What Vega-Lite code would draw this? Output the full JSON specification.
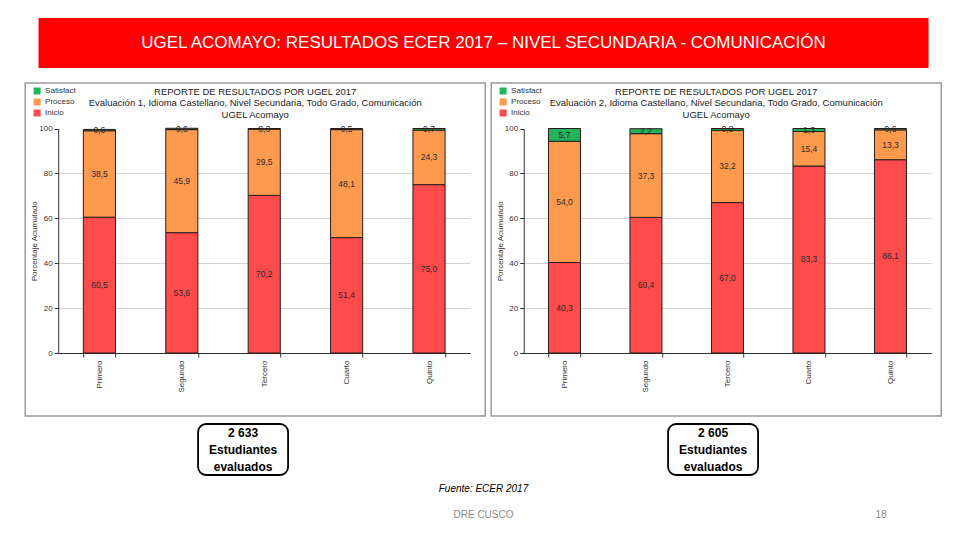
{
  "$schema": "https://vega.github.io/schema/vega-lite/v6.json",
  "background": "white",
  "padding": {"left": 20, "top": 18, "right": 0, "bottom": 0},
  "datasets": {
    "resultados": [
      {"evaluacion": 1, "grado": "Primero", "nivel": "Inicio", "orden": 1, "valor": 60.5},
      {"evaluacion": 1, "grado": "Primero", "nivel": "Proceso", "orden": 2, "valor": 38.5},
      {"evaluacion": 1, "grado": "Primero", "nivel": "Satisfactorio", "orden": 3, "valor": 0.6},
      {"evaluacion": 1, "grado": "Segundo", "nivel": "Inicio", "orden": 1, "valor": 53.6},
      {"evaluacion": 1, "grado": "Segundo", "nivel": "Proceso", "orden": 2, "valor": 45.9},
      {"evaluacion": 1, "grado": "Segundo", "nivel": "Satisfactorio", "orden": 3, "valor": 0.6},
      {"evaluacion": 1, "grado": "Tercero", "nivel": "Inicio", "orden": 1, "valor": 70.2},
      {"evaluacion": 1, "grado": "Tercero", "nivel": "Proceso", "orden": 2, "valor": 29.5},
      {"evaluacion": 1, "grado": "Tercero", "nivel": "Satisfactorio", "orden": 3, "valor": 0.3},
      {"evaluacion": 1, "grado": "Cuarto", "nivel": "Inicio", "orden": 1, "valor": 51.4},
      {"evaluacion": 1, "grado": "Cuarto", "nivel": "Proceso", "orden": 2, "valor": 48.1},
      {"evaluacion": 1, "grado": "Cuarto", "nivel": "Satisfactorio", "orden": 3, "valor": 0.5},
      {"evaluacion": 1, "grado": "Quinto", "nivel": "Inicio", "orden": 1, "valor": 75.0},
      {"evaluacion": 1, "grado": "Quinto", "nivel": "Proceso", "orden": 2, "valor": 24.3},
      {"evaluacion": 1, "grado": "Quinto", "nivel": "Satisfactorio", "orden": 3, "valor": 0.7},
      {"evaluacion": 2, "grado": "Primero", "nivel": "Inicio", "orden": 1, "valor": 40.3},
      {"evaluacion": 2, "grado": "Primero", "nivel": "Proceso", "orden": 2, "valor": 54.0},
      {"evaluacion": 2, "grado": "Primero", "nivel": "Satisfactorio", "orden": 3, "valor": 5.7},
      {"evaluacion": 2, "grado": "Segundo", "nivel": "Inicio", "orden": 1, "valor": 60.4},
      {"evaluacion": 2, "grado": "Segundo", "nivel": "Proceso", "orden": 2, "valor": 37.3},
      {"evaluacion": 2, "grado": "Segundo", "nivel": "Satisfactorio", "orden": 3, "valor": 2.2},
      {"evaluacion": 2, "grado": "Tercero", "nivel": "Inicio", "orden": 1, "valor": 67.0},
      {"evaluacion": 2, "grado": "Tercero", "nivel": "Proceso", "orden": 2, "valor": 32.2},
      {"evaluacion": 2, "grado": "Tercero", "nivel": "Satisfactorio", "orden": 3, "valor": 0.8},
      {"evaluacion": 2, "grado": "Cuarto", "nivel": "Inicio", "orden": 1, "valor": 83.3},
      {"evaluacion": 2, "grado": "Cuarto", "nivel": "Proceso", "orden": 2, "valor": 15.4},
      {"evaluacion": 2, "grado": "Cuarto", "nivel": "Satisfactorio", "orden": 3, "valor": 1.3},
      {"evaluacion": 2, "grado": "Quinto", "nivel": "Inicio", "orden": 1, "valor": 86.1},
      {"evaluacion": 2, "grado": "Quinto", "nivel": "Proceso", "orden": 2, "valor": 13.3},
      {"evaluacion": 2, "grado": "Quinto", "nivel": "Satisfactorio", "orden": 3, "valor": 0.6}
    ],
    "cabecera": [
      {"texto": "UGEL ACOMAYO: RESULTADOS ECER 2017 – NIVEL SECUNDARIA - COMUNICACIÓN"}
    ],
    "estudiantes": [
      {"evaluacion": 1, "texto": ["2 633", "Estudiantes", "evaluados"]},
      {"evaluacion": 2, "texto": ["2 605", "Estudiantes", "evaluados"]}
    ],
    "pie": [
      {"texto": "Fuente: ECER 2017", "pos": "centro", "fila": "a", "tipo": "fuente"},
      {"texto": "DRE CUSCO", "pos": "centro", "fila": "b", "tipo": "pie"},
      {"texto": "18", "pos": "der", "fila": "b", "tipo": "pie"}
    ]
  },
  "vconcat": [
    {
      "vconcat": [
        {
          "width": 890,
          "height": 50,
          "view": {"fill": "#ff0000", "stroke": null},
          "data": {"name": "cabecera"},
          "mark": {"type": "text", "color": "white", "fontSize": 17, "font": "Liberation Sans"},
          "encoding": {"text": {"field": "texto", "type": "nominal"}}
        },
        {
          "hconcat": [
            {
              "vconcat": [
                {
                  "width": 460,
                  "height": 333,
                  "view": {"stroke": "#9c9c9c", "strokeWidth": 1.5, "fill": "white"},
                  "title": {
                    "text": ["REPORTE DE RESULTADOS POR UGEL 2017", "Evaluación 1, Idioma Castellano, Nivel Secundaria, Todo Grado, Comunicación", "UGEL Acomayo"],
                    "frame": "group", "anchor": "middle", "offset": -36,
                    "fontSize": 9.5, "font": "Liberation Sans", "fontWeight": "normal", "color": "#222222", "lineHeight": 11.5
                  },
                  "data": {"name": "resultados"},
                  "transform": [
                    {"filter": "datum.evaluacion == 1"},
                    {"stack": "valor", "groupby": ["grado"], "sort": [{"field": "orden", "order": "ascending"}], "as": ["y0", "y1"]},
                    {"calculate": "(datum.y0 + datum.y1) / 2", "as": "ymid"}
                  ],
                  "encoding": {
                    "x": {
                      "field": "grado", "type": "nominal",
                      "sort": ["Primero", "Segundo", "Tercero", "Cuarto", "Quinto"],
                      "scale": {"range": [33, 445], "paddingInner": 0.61, "paddingOuter": 0.305},
                      "axis": {"title": null, "orient": "bottom", "offset": -63, "labelAngle": -90, "tickBand": "extent", "tickSize": 4, "labelFontSize": 8, "labelFont": "Liberation Sans", "labelColor": "#333333", "labelPadding": 3, "domainColor": "#333333", "tickColor": "#333333", "grid": false}
                    }
                  },
                  "layer": [
                    {
                      "mark": {"type": "bar", "stroke": "#2b1b1b", "strokeWidth": 1},
                      "encoding": {
                        "y": {
                          "field": "y0", "type": "quantitative", "title": "Porcentaje Acumulado",
                          "scale": {"domain": [0, 100], "range": [270, 45.5], "nice": false, "zero": false},
                          "axis": {
                            "values": [0, 10, 20, 30, 40, 50, 60, 70, 80, 90, 100],
                            "labelExpr": "datum.value % 20 == 0 ? datum.label : ''",
                            "offset": -33, "grid": true, "gridColor": "#d4d4d4",
                            "gridOpacity": {"condition": {"test": "datum.value % 20 != 0 || datum.value == 0 || datum.value == 100", "value": 0}, "value": 1},
                            "tickSize": 4, "domainColor": "#333333", "tickColor": "#333333",
                            "labelFontSize": 8, "labelFont": "Liberation Sans", "labelColor": "#333333", "labelPadding": 2,
                            "titleFontSize": 8, "titleFont": "Liberation Sans", "titleFontWeight": "normal", "titleColor": "#333333", "titlePadding": 0
                          }
                        },
                        "y2": {"field": "y1"},
                        "color": {
                          "field": "nivel", "type": "nominal",
                          "scale": {"domain": ["Satisfactorio", "Proceso", "Inicio"], "range": ["#22b35c", "#fd9a4d", "#fe4c4c"]},
                          "legend": {
                            "title": null, "orient": "none", "legendX": 8, "legendY": 4,
                            "symbolType": "square", "symbolSize": 49, "symbolStrokeWidth": 0,
                            "labelFontSize": 8, "labelFont": "Liberation Sans", "labelColor": "#333333", "rowPadding": 3,
                            "labelExpr": "datum.label == 'Satisfactorio' ? 'Satisfact' : datum.label"
                          }
                        }
                      }
                    },
                    {
                      "mark": {"type": "text", "fontSize": 8.5, "font": "Liberation Sans", "color": "#2a2a2a"},
                      "encoding": {
                        "y": {"field": "ymid", "type": "quantitative", "title": "Porcentaje Acumulado"},
                        "text": {"field": "valor", "type": "quantitative", "format": ".1f"}
                      }
                    }
                  ]
                },
                {
                  "hconcat": [
                    {
                      "width": 90,
                      "height": 51,
                      "view": {"stroke": "black", "strokeWidth": 1.8, "cornerRadius": 8, "fill": "white"},
                      "data": {"name": "estudiantes"},
                      "transform": [{"filter": "datum.evaluacion == 1"}],
                      "mark": {"type": "text", "fontSize": 12, "fontWeight": "bold", "lineHeight": 17, "dy": -17, "font": "Liberation Sans", "color": "black"},
                      "encoding": {"text": {"field": "texto", "type": "nominal"}}
                    },
                    {
                      "width": 24,
                      "height": 1,
                      "view": {"stroke": null},
                      "data": {"values": []},
                      "mark": "point"
                    }
                  ],
                  "spacing": 0
                }
              ],
              "spacing": 6,
              "center": true
            },
            {
              "vconcat": [
                {
                  "width": 450,
                  "height": 333,
                  "view": {"stroke": "#9c9c9c", "strokeWidth": 1.5, "fill": "white"},
                  "title": {
                    "text": ["REPORTE DE RESULTADOS POR UGEL 2017", "Evaluación 2, Idioma Castellano, Nivel Secundaria, Todo Grado, Comunicación", "UGEL Acomayo"],
                    "frame": "group", "anchor": "middle", "offset": -36,
                    "fontSize": 9.5, "font": "Liberation Sans", "fontWeight": "normal", "color": "#222222", "lineHeight": 11.5
                  },
                  "data": {"name": "resultados"},
                  "transform": [
                    {"filter": "datum.evaluacion == 2"},
                    {"stack": "valor", "groupby": ["grado"], "sort": [{"field": "orden", "order": "ascending"}], "as": ["y0", "y1"]},
                    {"calculate": "(datum.y0 + datum.y1) / 2", "as": "ymid"}
                  ],
                  "encoding": {
                    "x": {
                      "field": "grado", "type": "nominal",
                      "sort": ["Primero", "Segundo", "Tercero", "Cuarto", "Quinto"],
                      "scale": {"range": [32.5, 440], "paddingInner": 0.607, "paddingOuter": 0.3035},
                      "axis": {"title": null, "orient": "bottom", "offset": -63, "labelAngle": -90, "tickBand": "extent", "tickSize": 4, "labelFontSize": 8, "labelFont": "Liberation Sans", "labelColor": "#333333", "labelPadding": 3, "domainColor": "#333333", "tickColor": "#333333", "grid": false}
                    }
                  },
                  "layer": [
                    {
                      "mark": {"type": "bar", "stroke": "#2b1b1b", "strokeWidth": 1},
                      "encoding": {
                        "y": {
                          "field": "y0", "type": "quantitative", "title": "Porcentaje Acumulado",
                          "scale": {"domain": [0, 100], "range": [270, 45.5], "nice": false, "zero": false},
                          "axis": {
                            "values": [0, 10, 20, 30, 40, 50, 60, 70, 80, 90, 100],
                            "labelExpr": "datum.value % 20 == 0 ? datum.label : ''",
                            "offset": -32.5, "grid": true, "gridColor": "#d4d4d4",
                            "gridOpacity": {"condition": {"test": "datum.value % 20 != 0 || datum.value == 0 || datum.value == 100", "value": 0}, "value": 1},
                            "tickSize": 4, "domainColor": "#333333", "tickColor": "#333333",
                            "labelFontSize": 8, "labelFont": "Liberation Sans", "labelColor": "#333333", "labelPadding": 2,
                            "titleFontSize": 8, "titleFont": "Liberation Sans", "titleFontWeight": "normal", "titleColor": "#333333", "titlePadding": 0
                          }
                        },
                        "y2": {"field": "y1"},
                        "color": {
                          "field": "nivel", "type": "nominal",
                          "scale": {"domain": ["Satisfactorio", "Proceso", "Inicio"], "range": ["#22b35c", "#fd9a4d", "#fe4c4c"]},
                          "legend": {
                            "title": null, "orient": "none", "legendX": 8, "legendY": 4,
                            "symbolType": "square", "symbolSize": 49, "symbolStrokeWidth": 0,
                            "labelFontSize": 8, "labelFont": "Liberation Sans", "labelColor": "#333333", "rowPadding": 3,
                            "labelExpr": "datum.label == 'Satisfactorio' ? 'Satisfact' : datum.label"
                          }
                        }
                      }
                    },
                    {
                      "mark": {"type": "text", "fontSize": 8.5, "font": "Liberation Sans", "color": "#2a2a2a"},
                      "encoding": {
                        "y": {"field": "ymid", "type": "quantitative", "title": "Porcentaje Acumulado"},
                        "text": {"field": "valor", "type": "quantitative", "format": ".1f"}
                      }
                    }
                  ]
                },
                {
                  "hconcat": [
                    {
                      "width": 90,
                      "height": 51,
                      "view": {"stroke": "black", "strokeWidth": 1.8, "cornerRadius": 8, "fill": "white"},
                      "data": {"name": "estudiantes"},
                      "transform": [{"filter": "datum.evaluacion == 2"}],
                      "mark": {"type": "text", "fontSize": 12, "fontWeight": "bold", "lineHeight": 17, "dy": -17, "font": "Liberation Sans", "color": "black"},
                      "encoding": {"text": {"field": "texto", "type": "nominal"}}
                    },
                    {
                      "width": 6,
                      "height": 1,
                      "view": {"stroke": null},
                      "data": {"values": []},
                      "mark": "point"
                    }
                  ],
                  "spacing": 0
                }
              ],
              "spacing": 6,
              "center": true
            }
          ],
          "spacing": 0,
          "resolve": {"scale": {"color": "independent", "x": "independent", "y": "independent"}, "legend": {"color": "independent"}}
        }
      ],
      "spacing": 14,
      "center": true,
      "resolve": {"scale": {"color": "independent"}, "legend": {"color": "independent"}}
    },
    {
      "width": 915,
      "height": 26,
      "view": {"stroke": null},
      "data": {"name": "pie"},
      "encoding": {
        "x": {"field": "pos", "type": "nominal", "scale": {"type": "point", "domain": ["izq", "centro", "der"], "padding": 0.151}, "axis": null},
        "y": {"field": "fila", "type": "nominal", "scale": {"type": "point", "domain": ["a", "b"], "padding": 0}, "axis": null}
      },
      "layer": [
        {
          "transform": [{"filter": "datum.tipo == 'fuente'"}],
          "mark": {"type": "text", "fontSize": 10, "fontStyle": "italic", "font": "Liberation Sans", "color": "black"},
          "encoding": {"text": {"field": "texto", "type": "nominal"}}
        },
        {
          "transform": [{"filter": "datum.tipo == 'pie'"}],
          "mark": {"type": "text", "fontSize": 10, "font": "Liberation Sans", "color": "#8c8c8c"},
          "encoding": {"text": {"field": "texto", "type": "nominal"}}
        }
      ]
    }
  ],
  "spacing": 8,
  "center": true,
  "resolve": {"scale": {"color": "independent"}, "legend": {"color": "independent"}},
  "config": {
    "font": "Liberation Sans",
    "locale": {"number": {"decimal": ",", "thousands": " ", "grouping": [3], "currency": ["", ""]}}
  }
}
